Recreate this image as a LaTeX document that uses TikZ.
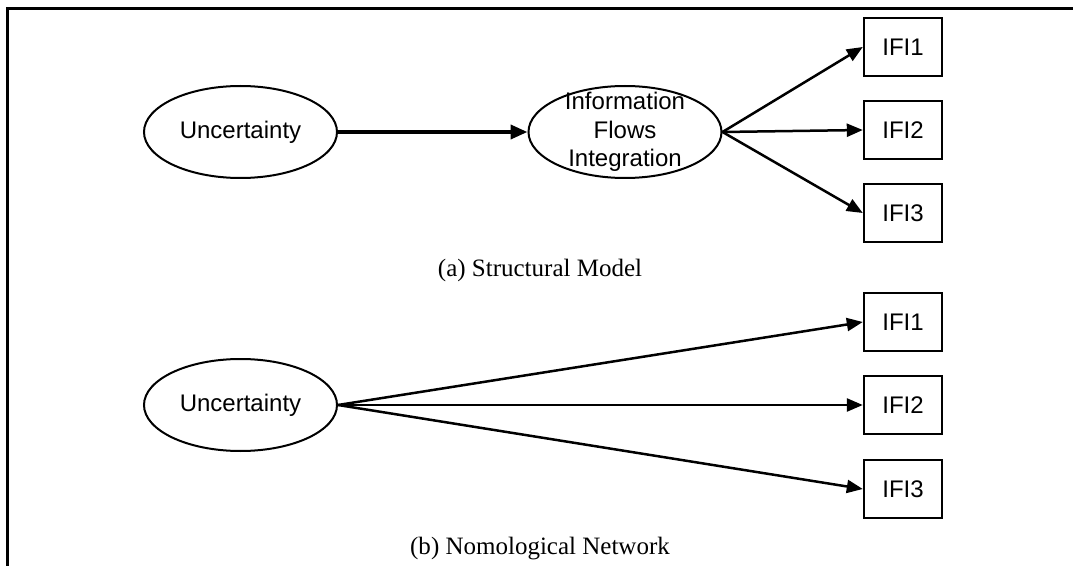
\documentclass[tikz,border=0pt]{standalone}
\usepackage{fontspec}
\setmainfont{Liberation Serif}
\setsansfont{Liberation Sans}
\usetikzlibrary{arrows.meta,shapes.geometric}
\tikzset{
  latent/.style={ellipse, draw, line width=2bp, minimum width=193bp, minimum height=92bp, inner sep=0pt,
    font=\sffamily\fontsize{24bp}{28bp}\selectfont, align=center},
  ltext/.style={inner sep=0pt, font=\sffamily\fontsize{24bp}{28.5bp}\selectfont, align=center},
  indic/.style={rectangle, draw, line width=2.4bp, minimum width=78bp, minimum height=58bp, inner sep=0pt,
    font=\sffamily\fontsize{24bp}{28bp}\selectfont},
  capt/.style={font=\rmfamily\fontsize{25bp}{30bp}\selectfont, inner sep=0pt},
  arr/.style={-{Triangle[length=16bp,width=13bp]}, line width=2.5bp},
  thickarr/.style={-{Triangle[length=17bp,width=14bp]}, line width=3.8bp},
  frame/.style={line width=2.5bp}
}
\begin{document}
\begin{tikzpicture}[x=1bp,y=-1bp]
\useasboundingbox (0,0) rectangle (1073,566);
\draw[frame] (7.5,566) -- (7.5,8.5) -- (1073,8.5);
% (a) structural model
\node[latent] (ua) at (240.5,132) {Uncertainty};
\node[latent] (ifi) at (625,132) {};
\node[ltext] (ifit) at (625,132) {Information\\Flows\\Integration};
\node[indic] (a1) at (903,47) {IFI1};
\node[indic] (a2) at (903,130) {IFI2};
\node[indic] (a3) at (903,213) {IFI3};
\draw[thickarr] (ua.east) -- (ifi.west);
\draw[arr] (ifi.east) -- (a1.west);
\draw[arr] (ifi.east) -- (a2.west);
\draw[arr] (ifi.east) -- (a3.west);
\node[capt] (ca) at (540,270) {(a) Structural Model};
% (b) nomological network
\node[latent] (ub) at (240.5,405) {Uncertainty};
\node[indic] (b1) at (903,322) {IFI1};
\node[indic] (b2) at (903,405) {IFI2};
\node[indic] (b3) at (903,489) {IFI3};
\draw[arr] (ub.east) -- (b1.west);
\draw[arr] (ub.east) -- (b2.west);
\draw[arr] (ub.east) -- (b3.west);
\node[capt] (cb) at (540,549) {(b) Nomological Network};
\end{tikzpicture}
\end{document}
